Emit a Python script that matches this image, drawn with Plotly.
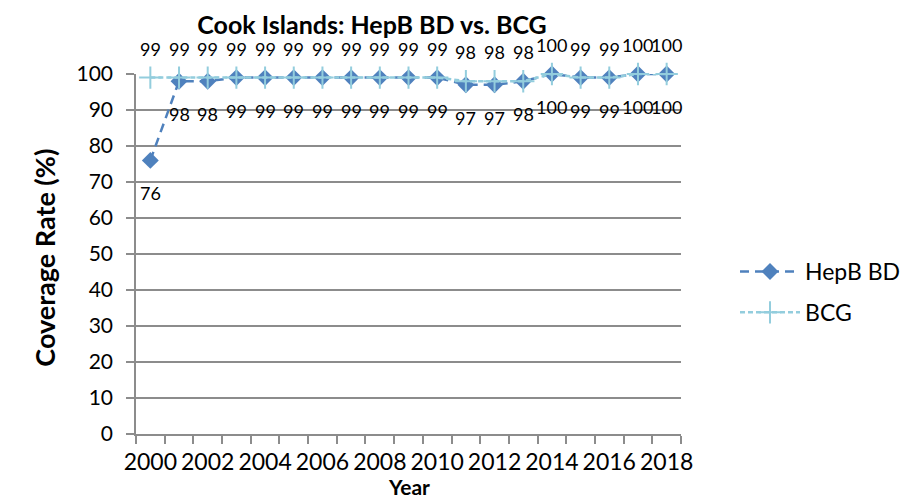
import plotly.graph_objects as go

years = list(range(2000, 2019))
hepb_bd = [76, 98, 98, 99, 99, 99, 99, 99, 99, 99, 99, 97, 97, 98, 100, 99, 99, 100, 100]
bcg = [99, 99, 99, 99, 99, 99, 99, 99, 99, 99, 99, 98, 98, 98, 100, 99, 99, 100, 100]
year_labels = [str(y) for y in range(2000, 2019, 2)]
y_ticks = list(range(0, 101, 10))

FONT = "Lato, Calibri, Carlito, sans-serif"
HEPB_COLOR = "#4F81BD"
BCG_COLOR = "#93CDDD"
GRID = "#8C8C8C"

L, R, T, B = 128, 227, 66, 72
W, H = 910, 498
PW, PH = W - L - R, H - T - B


def px_x(p):
    return (p - L) / PW


def px_y(p):
    return (H - B - p) / PH


fig = go.Figure()
fig.add_trace(go.Scatter(
    x=years, y=hepb_bd, name="HepB BD", mode="lines+markers",
    line=dict(color=HEPB_COLOR, width=2.5, dash="9px,6px"),
    marker=dict(symbol="diamond", size=13, color=HEPB_COLOR),
    cliponaxis=False, legendgroup="a",
))
fig.add_trace(go.Scatter(
    x=years, y=bcg, name="BCG", mode="lines+markers",
    line=dict(color=BCG_COLOR, width=2.5, dash="5px,3px"),
    marker=dict(symbol="cross-thin", size=16, line=dict(color=BCG_COLOR, width=2)),
    cliponaxis=False, legendgroup="b",
))

annotations = []
for x, v in zip(years, bcg):
    annotations.append(dict(x=x, y=v, xref="x", yref="y", text=str(v), showarrow=False,
                            yshift=29, font=dict(family=FONT, size=18, color="black")))
for x, v in zip(years, hepb_bd):
    annotations.append(dict(x=x, y=v, xref="x", yref="y", text=str(v), showarrow=False,
                            yshift=-33, font=dict(family=FONT, size=18, color="black")))
annotations.append(dict(x=px_x(34), y=px_y(250), xref="paper", yref="paper",
                        xanchor="center", yanchor="middle",
                        text="<b>Coverage Rate (%)</b>", showarrow=False, textangle=-90,
                        font=dict(family=FONT, size=27, color="black")))
annotations.append(dict(x=0.5, y=px_y(478), xref="paper", yref="paper",
                        xanchor="center", yanchor="middle",
                        text="<b>Year</b>", showarrow=False,
                        font=dict(family=FONT, size=21, color="black")))

fig.update_layout(
    width=W, height=H,
    margin=dict(l=L, r=R, t=T, b=B),
    paper_bgcolor="white", plot_bgcolor="white",
    font=dict(family=FONT, color="black"),
    title=dict(text="<b>Cook Islands: HepB BD vs. BCG</b>", x=364 / W, xanchor="center",
               y=1 - 17 / H, yanchor="middle", yref="container",
               font=dict(family=FONT, size=25, color="black")),
    showlegend=True,
    legend=dict(x=px_x(738), xanchor="left", y=px_y(284), yanchor="middle",
                font=dict(family=FONT, size=23, color="black"), tracegroupgap=8,
                itemwidth=60, bgcolor="rgba(0,0,0,0)"),
    annotations=annotations,
)
fig.update_xaxes(
    range=[1999.5, 2018.5], tickmode="array", tickvals=list(range(2000, 2019, 2)),
    ticktext=year_labels, ticks="outside", ticklen=0, showgrid=False,
    showline=True, linecolor=GRID, linewidth=1.5,
    tickfont=dict(family=FONT, size=23, color="black"), ticklabelstandoff=7,
    minor=dict(ticks="outside", tick0=1999.5, dtick=1, ticklen=8, tickcolor=GRID, tickwidth=1.5,
               showgrid=False),
    zeroline=False,
)
fig.update_yaxes(
    range=[0, 100], tickmode="array", tickvals=y_ticks, ticks="outside", ticklen=8,
    tickcolor=GRID, tickwidth=1.5, showgrid=True, gridcolor=GRID, gridwidth=1.5,
    showline=True, linecolor=GRID, linewidth=1.5, zeroline=False,
    tickfont=dict(family=FONT, size=21, color="black"), ticklabelstandoff=9,
)
fig.write_html("out.html")
